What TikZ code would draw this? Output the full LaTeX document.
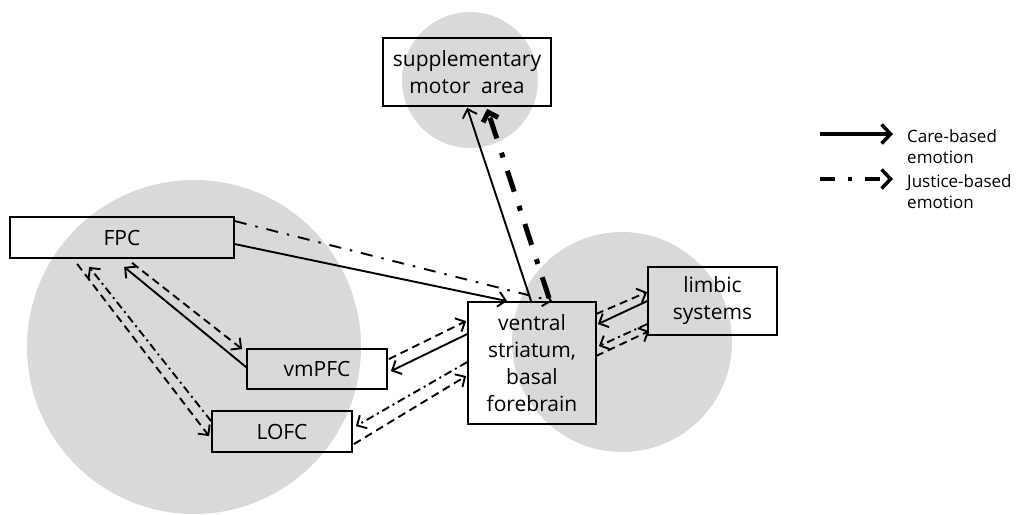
\documentclass[tikz,border=0pt]{standalone}
\usepackage{fontspec}
\setmainfont{Open Sans}
\usetikzlibrary{arrows.meta,calc}
\begin{document}
\begin{tikzpicture}[x=1pt,y=-1pt,
  box/.style={draw,line width=1.8pt,inner sep=0pt,align=center,font=\fontsize{21}{27}\selectfont},
  blob/.style={fill=black!15},
  tip/.style={-{Straight Barb[length=7.5pt,width=15pt]}},
  solidl/.style={line width=1.9pt,tip},
  dsh/.style={line width=1.9pt,tip,dash pattern=on 8pt off 5pt},
  dd/.style={line width=1.9pt,tip,dash pattern=on 8pt off 4pt on 2pt off 4pt},
  longdd/.style={line width=1.9pt,tip,dash pattern=on 12pt off 9pt on 2.5pt off 9pt},
  thickdd/.style={line width=5pt,-{Straight Barb[length=8pt,width=16pt]},dash pattern=on 22pt off 14pt on 5pt off 15pt},
  legtext/.style={anchor=west,align=left,inner sep=0pt,font=\fontsize{17}{21}\selectfont},
  legline/.style={line width=3.5pt,-{Straight Barb[length=9pt,width=19pt]}},
 ]
\useasboundingbox (0,0) rectangle (1024,514);
% background regions
\fill[blob] (194,347) circle (167);
\fill[blob] (622,342) circle (110);
\fill[blob] (470,80) circle (68);

% boxes
\node[box,minimum width=168pt,minimum height=68pt] (sma) at (467,72) {supplementary\\motor~ area};
\node[box,minimum width=224pt,minimum height=41pt] (fpc) at (122,237.5) {FPC};
\node[box,minimum width=140pt,minimum height=40pt] (vm) at (317,369) {vmPFC};
\node[box,minimum width=140pt,minimum height=41pt] (lofc) at (282,431.5) {LOFC};
\node[box,minimum width=128pt,minimum height=122pt] (vs) at (532,363) {ventral\\striatum,\\basal\\forebrain};
\node[box,minimum width=129pt,minimum height=68pt] (lim) at (712.5,301) {limbic\\systems};

% FPC -> ventral striatum
\draw[solidl] ($(fpc.north east)+(0,28)$) -- ($(vs.north west)+(40,0)$);
\draw[longdd] ($(fpc.north east)+(0,5)$) -- ($(vs.north west)+(85,0)$);
% ventral striatum -> SMA
\draw[solidl] ($(vs.north west)+(64,0)$) -- ($(sma.south west)+(85,1)$);
\draw[thickdd] ($(vs.north west)+(82,-3)$) -- ($(sma.south west)+(105,2)$);
% vmPFC <-> FPC
\draw[solidl] ($(vm.north west)+(0,19)$) -- ($(fpc.south west)+(115,8)$);
\draw[dsh] ($(fpc.south west)+(123,4)$) -- ($(vm.north west)+(-4,1)$);
% FPC <-> LOFC
\draw[dsh] ($(fpc.south west)+(68,5)$) -- ($(lofc.north west)+(-2,26)$);
\draw[dd] ($(lofc.north west)+(0,11)$) -- ($(fpc.south west)+(80,8)$);
% vmPFC <-> ventral striatum
\draw[dsh] ($(vm.north east)+(1,11)$) -- ($(vs.north west)+(-1,20)$);
\draw[solidl] ($(vs.north west)+(0,33)$) -- ($(vm.north east)+(3,23)$);
% LOFC <-> ventral striatum
\draw[dd] ($(vs.north west)+(0,61)$) -- ($(lofc.north east)+(3,16)$);
\draw[dsh] ($(lofc.north east)+(1,34)$) -- ($(vs.north west)+(-1,75)$);
% ventral striatum <-> limbic
\draw[dsh] ($(vs.north east)+(-1,13)$) -- ($(lim.north west)+(0,26)$);
\draw[solidl] ($(lim.north west)+(0,35)$) -- ($(vs.north east)+(1,23)$);
\draw[dd] ($(lim.north west)+(0,58)$) -- ($(vs.north east)+(2,45)$);
\draw[dsh] ($(vs.north east)+(-1,55)$) -- ($(lim.north west)+(2,65)$);

% legend
\coordinate (l1a) at (820,134); \coordinate (l1b) at (893,134);
\coordinate (l2a) at (820,179); \coordinate (l2b) at (893,179);
\draw[legline] (l1a) -- (l1b);
\draw[legline,dash pattern=on 15pt off 13pt on 4pt off 13pt] (l2a) -- (l2b);
\node[legtext] (lt1) at (907,147) {Care-based\\emotion};
\node[legtext] (lt2) at (907,192) {Justice-based\\emotion};
\end{tikzpicture}
\end{document}
